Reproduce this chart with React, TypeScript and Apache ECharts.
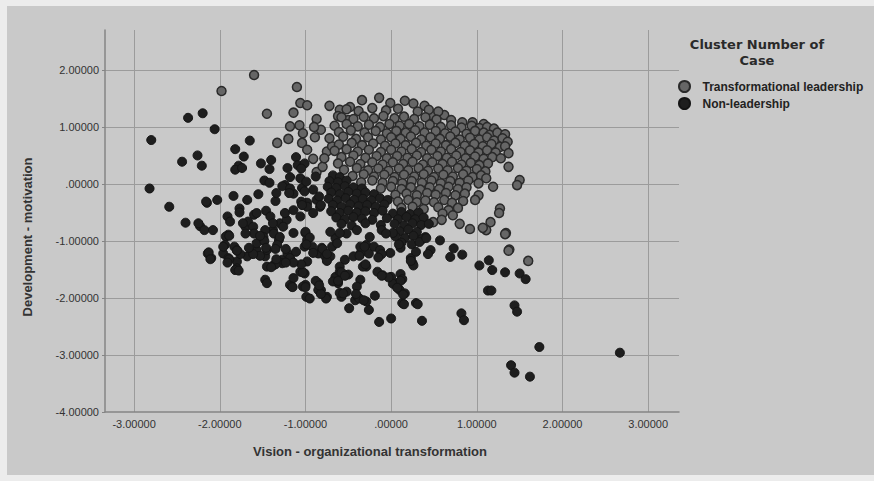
import React, { useEffect, useRef } from 'react';
import * as echarts from 'echarts';

const X_NAME = 'Vision - organizational transformation';
const Y_NAME = 'Development - motivation';
const LEGEND_TITLE = 'Cluster Number of\nCase';
const SERIES_NAMES = ['Transformational leadership', 'Non-leadership'];
const X_MIN = -3.34;
const X_MAX = 3.36;
const Y_MIN = -4;
const Y_MAX = 2.7;

// Cluster 1: Transformational leadership (grey markers)
const transformational: number[][] = [
  [-1.60, 1.91], [-1.98, 1.63], [-1.10, 1.70], [-1.45, 1.23], [-1.14, 1.25], [-1.06, 1.42], [-0.98, 1.38],
  [-0.87, 1.14], [-0.72, 1.37], [-1.07, 1.03], [-1.03, 0.89], [-0.89, 0.82], [-1.20, 0.79], [-1.33, 0.72],
  [-1.04, 0.72], [-0.91, 0.44], [-0.87, 0.21], [-0.60, 1.30], [-0.48, 1.35], [-0.34, 1.47], [-0.14, 1.51],
  [-0.01, 1.42], [0.16, 1.46], [0.26, 1.41], [0.39, 1.37], [0.47, 1.21], [0.62, 1.21], [-0.50, 1.12],
  [-0.82, 0.95], [-0.98, 0.60], [-0.75, 0.57], [-0.69, 0.66], [-0.80, 0.30], [-0.78, 0.45], [-0.90, 1.00],
  [-1.18, 1.01], [-0.62, 1.19],
  [-0.52, 1.31], [-0.38, 1.28], [-0.22, 1.33], [-0.06, 1.29], [0.08, 1.32], [0.31, 1.27], [0.44, 1.30], [0.55, 1.27],
  [-0.58, 1.17], [-0.44, 1.14], [-0.32, 1.18], [-0.20, 1.15], [-0.09, 1.19], [0.04, 1.15], [0.15, 1.18], [0.27, 1.14],
  [0.40, 1.17], [0.53, 1.13], [0.70, 1.12], [0.83, 1.08], [0.95, 1.08], [1.08, 1.05],
  [-0.66, 1.02], [-0.52, 1.05], [-0.39, 1.01], [-0.26, 1.04], [-0.13, 1.00], [-0.02, 1.05], [0.10, 1.02], [0.21, 1.05],
  [0.33, 1.01], [0.45, 1.04], [0.58, 1.00], [0.70, 1.03], [0.82, 0.99], [0.94, 1.02], [1.03, 0.98], [1.12, 1.00], [1.20, 0.97],
  [-0.61, 0.91], [-0.47, 0.94], [-0.31, 0.90], [-0.18, 0.93], [-0.05, 0.89], [0.06, 0.93], [0.17, 0.90], [0.28, 0.94],
  [0.39, 0.90], [0.52, 0.93], [0.63, 0.89], [0.75, 0.92], [0.88, 0.88], [0.98, 0.93], [1.08, 0.90], [1.15, 0.86],
  [1.24, 0.90], [1.33, 0.87],
  [-0.72, 0.80], [-0.56, 0.83], [-0.41, 0.79], [-0.27, 0.82], [-0.12, 0.78], [0.00, 0.82], [0.11, 0.79], [0.23, 0.83],
  [0.35, 0.78], [0.46, 0.82], [0.57, 0.79], [0.69, 0.83], [0.80, 0.78], [0.92, 0.81], [1.03, 0.78], [1.12, 0.82],
  [1.20, 0.76], [1.30, 0.80], [1.36, 0.74],
  [-0.61, 0.69], [-0.46, 0.72], [-0.34, 0.68], [-0.21, 0.71], [-0.07, 0.67], [0.05, 0.71], [0.17, 0.68], [0.29, 0.72],
  [0.41, 0.67], [0.52, 0.71], [0.64, 0.68], [0.75, 0.72], [0.86, 0.67], [0.97, 0.70], [1.07, 0.66], [1.17, 0.70],
  [1.27, 0.65], [1.33, 0.66],
  [-0.66, 0.58], [-0.52, 0.61], [-0.39, 0.57], [-0.26, 0.60], [-0.12, 0.56], [0.00, 0.60], [0.12, 0.57], [0.24, 0.61],
  [0.35, 0.56], [0.47, 0.60], [0.58, 0.57], [0.70, 0.61], [0.81, 0.56], [0.92, 0.59], [1.02, 0.55], [1.12, 0.59],
  [1.22, 0.55], [1.37, 0.54],
  [-0.58, 0.47], [-0.44, 0.50], [-0.30, 0.46], [-0.17, 0.49], [-0.05, 0.45], [0.07, 0.49], [0.19, 0.46], [0.30, 0.50],
  [0.42, 0.45], [0.54, 0.49], [0.65, 0.46], [0.76, 0.50], [0.87, 0.45], [0.98, 0.48], [1.08, 0.44], [1.18, 0.47], [1.28, 0.45],
  [-0.62, 0.36], [-0.48, 0.39], [-0.36, 0.35], [-0.22, 0.38], [-0.10, 0.34], [0.02, 0.38], [0.14, 0.35], [0.25, 0.39],
  [0.37, 0.34], [0.48, 0.38], [0.60, 0.35], [0.71, 0.39], [0.82, 0.34], [0.93, 0.37], [1.03, 0.33], [1.13, 0.36], [1.37, 0.30],
  [-0.55, 0.25], [-0.40, 0.28], [-0.27, 0.24], [-0.15, 0.27], [-0.03, 0.23], [0.09, 0.27], [0.20, 0.24], [0.32, 0.28],
  [0.43, 0.23], [0.55, 0.27], [0.66, 0.24], [0.78, 0.28], [0.88, 0.23], [1.00, 0.26], [1.10, 0.22],
  [-0.45, 0.14], [-0.32, 0.17], [-0.20, 0.13], [-0.08, 0.16], [0.04, 0.12], [0.15, 0.16], [0.27, 0.13], [0.38, 0.17],
  [0.50, 0.12], [0.61, 0.16], [0.72, 0.13], [0.84, 0.17], [0.95, 0.12], [1.05, 0.15], [1.11, 0.10],
  [-0.35, 0.03], [-0.22, 0.06], [-0.10, 0.02], [0.02, 0.05], [0.13, 0.01], [0.24, 0.05], [0.36, 0.02], [0.47, 0.06],
  [0.58, 0.01], [0.69, 0.05], [0.80, 0.02], [0.90, 0.06], [1.02, 0.01], [1.50, 0.07], [1.47, -0.02],
  [-0.12, -0.08], [0.00, -0.05], [0.12, -0.09], [0.23, -0.06], [0.34, -0.10], [0.45, -0.06], [0.56, -0.09], [0.67, -0.05],
  [0.78, -0.09], [0.88, -0.06], [1.19, -0.05],
  [0.05, -0.19], [0.18, -0.17], [0.30, -0.20], [0.42, -0.16], [0.52, -0.19], [0.64, -0.16], [0.75, -0.20], [0.86, -0.17], [1.02, -0.20],
  [0.08, -0.31], [0.20, -0.28], [0.30, -0.32], [0.40, -0.29], [0.50, -0.32], [0.62, -0.28], [0.71, -0.33], [0.84, -0.30], [0.98, -0.28],
  [0.12, -0.42], [0.25, -0.40], [0.38, -0.44], [0.55, -0.41], [0.67, -0.46], [0.78, -0.42], [0.60, -0.52], [0.72, -0.55],
  [0.59, -0.63], [0.49, -0.67], [0.80, -0.70], [1.27, -0.43], [1.26, -0.51], [1.34, -0.86], [1.16, -0.67], [1.11, -0.81],
  [0.92, -0.79], [1.07, -0.77], [1.38, -1.15], [1.60, -1.35], [1.37, -1.17], [1.33, -0.88],
];

// Cluster 2: Non-leadership (dark markers)
const nonLeadership: number[][] = [
  [-0.68, 0.15], [-0.60, 0.12],
  [-0.72, 0.05], [-0.62, 0.03], [-0.52, 0.06],
  [-0.74, -0.05], [-0.64, -0.07], [-0.54, -0.04], [-0.44, -0.06], [-0.34, -0.08],
  [-0.70, -0.15], [-0.60, -0.18], [-0.50, -0.14], [-0.40, -0.17], [-0.30, -0.15], [-0.20, -0.18],
  [-0.73, -0.26], [-0.63, -0.29], [-0.53, -0.25], [-0.43, -0.28], [-0.33, -0.26], [-0.23, -0.29], [-0.13, -0.25], [-0.04, -0.28],
  [-0.68, -0.37], [-0.58, -0.40], [-0.48, -0.36], [-0.38, -0.39], [-0.28, -0.37], [-0.18, -0.40], [-0.08, -0.36],
  [-0.70, -0.48], [-0.60, -0.51], [-0.50, -0.47], [-0.40, -0.50], [-0.30, -0.48], [-0.20, -0.51], [-0.10, -0.47],
  [0.02, -0.52], [0.12, -0.49], [0.22, -0.53], [0.32, -0.50],
  [-0.64, -0.59], [-0.54, -0.62], [-0.44, -0.58], [-0.34, -0.61], [-0.22, -0.63], [-0.05, -0.60], [0.08, -0.62],
  [0.18, -0.58], [0.28, -0.62], [0.38, -0.59],
  [-0.58, -0.70], [-0.46, -0.73], [-0.30, -0.69], [-0.12, -0.72], [0.04, -0.70], [0.15, -0.73], [0.25, -0.69], [0.35, -0.72], [0.44, -0.70],
  [-0.40, -0.81], [0.10, -0.83], [0.20, -0.80], [0.30, -0.84], [0.40, -0.93],
  [0.05, -0.92], [0.16, -0.95], [0.26, -0.91], [0.36, -0.97],
  [0.12, -1.03], [0.24, -1.06], [0.33, -1.02],
  [-2.80, 0.77], [-2.82, -0.08], [-2.37, 1.16], [-2.20, 1.24], [-2.06, 0.96], [-2.44, 0.39], [-2.26, 0.50], [-2.21, 0.32],
  [-2.59, -0.40], [-2.40, -0.68], [-2.15, -0.33], [-2.03, -0.28], [-2.23, -0.74], [-2.18, -0.81], [-2.08, -0.81],
  [-1.90, -0.89], [-1.82, 0.61], [-1.65, 0.76], [-1.72, 0.48], [-1.78, 0.32], [-1.82, 0.25], [-1.74, 0.28], [-1.52, 0.36],
  [-1.40, 0.42], [-1.42, 0.26], [-1.48, 0.06], [-1.24, -0.02], [-1.84, -0.21], [-1.68, -0.28], [-1.55, -0.18],
  [-1.77, -0.43], [-1.77, -0.50], [-1.60, -0.54], [-1.46, -0.47], [-1.35, -0.30], [-1.91, -0.57], [-1.88, -0.66], [-1.70, -0.75],
  [-1.21, 0.28], [-1.11, 0.47], [-1.09, 0.33], [-1.18, 0.12], [-1.06, 0.10], [-1.27, -0.04], [-1.14, -0.17], [-0.98, -0.33],
  [-0.87, -0.28], [-0.91, -0.10], [-1.04, -0.07], [-0.83, -0.40], [-1.30, -0.69], [-1.38, -0.81], [-1.22, -0.63],
  [-1.06, -0.57], [-1.14, -0.86], [-1.00, -0.86], [-0.98, -0.98],
  [-1.01, 0.36], [-1.05, 0.27], [-0.88, 0.13], [-0.99, 0.04], [-0.84, -0.22], [-1.18, -0.08], [-1.34, -0.16], [-1.42, 0.02],
  [-1.19, -0.16], [-1.01, -0.13], [-1.05, -0.31], [-0.98, -0.40], [-0.82, -0.37], [-1.24, -0.51], [-1.41, -0.57],
  [-1.57, -0.51], [-1.67, -0.66], [-2.16, -0.31], [-2.25, -0.69],
  [-1.14, -0.46], [-1.04, -0.37], [-0.91, -0.51], [-1.38, -0.69], [-1.26, -0.75], [-1.61, -0.75], [-1.73, -0.69],
  [-1.47, -0.81], [-1.37, -0.87], [-1.31, -0.98], [-1.50, -0.98], [-1.60, -0.87], [-1.70, -0.87], [-1.93, -0.92],
  [-1.83, -1.10], [-1.96, -1.22], [-1.90, -1.30], [-1.80, -1.36], [-2.14, -1.22], [-2.10, -1.30], [-1.80, -1.48],
  [-1.57, -1.16], [-1.47, -1.27], [-1.37, -1.42], [-1.45, -1.45], [-1.27, -1.33], [-1.21, -1.22], [-1.47, -1.68],
  [-1.45, -1.74], [-1.18, -1.30], [-1.11, -1.19], [-1.01, -1.10], [-0.92, -1.10], [-0.85, -1.22], [-0.77, -1.27],
  [-0.69, -1.10], [-0.65, -0.95], [-0.52, -0.87], [-0.29, -1.07], [-0.26, -1.22], [-0.20, -1.10], [-0.36, -1.22],
  [-0.54, -1.33], [-0.60, -1.45], [-0.65, -1.63], [-0.62, -1.74], [-0.85, -1.74], [-0.82, -1.86], [-1.00, -1.77],
  [-0.99, -1.98], [-1.18, -1.77], [-1.14, -1.65], [-1.01, -1.57], [-0.52, -1.89], [-0.58, -1.98], [-0.42, -2.04],
  [-0.49, -2.18], [-0.26, -2.21], [-0.29, -2.06], [-0.36, -1.68], [-0.29, -1.45], [-0.16, -1.54], [-0.10, -1.60],
  [0.00, -1.63], [0.07, -1.74], [0.10, -1.86], [0.16, -1.92], [0.13, -2.09], [0.29, -2.09], [0.00, -2.36], [-0.14, -2.42],
  [0.25, -1.39], [0.23, -1.30], [0.29, -1.19],
  [-1.94, -1.07], [-1.80, -1.16], [-1.68, -1.27], [-1.57, -1.04], [-1.49, -0.93], [-1.45, -1.16], [-1.82, -1.51],
  [-1.27, -1.39], [-1.16, -1.80], [-1.03, -1.80], [-0.85, -1.86], [-0.75, -1.98], [-1.06, -1.54], [-0.98, -1.36],
  [-0.91, -1.21], [-0.81, -1.12], [-0.71, -1.27], [-0.60, -1.54], [-0.50, -1.59], [-0.68, -1.71], [-0.60, -1.91],
  [-0.39, -1.98], [-0.40, -1.80], [-0.33, -1.45], [-0.44, -1.27], [-0.36, -1.10], [-0.13, -1.16], [-0.01, -1.21],
  [0.02, -0.86], [-0.11, -0.81], [-0.25, -0.93], [-0.60, -0.86], [-0.71, -0.84], [-0.63, -1.04], [-1.00, -0.84],
  [-1.30, -0.93], [-1.33, -1.07],
  [-0.37, -2.01], [-0.32, -2.04], [-0.19, -1.96], [-0.41, -1.93], [-0.56, -1.92], [-0.76, -2.01], [-0.82, -1.93],
  [-0.95, -2.01], [-1.00, -1.81], [-1.15, -1.81], [0.02, -1.75], [-0.03, -1.64], [-0.11, -1.61], [0.11, -1.58],
  [0.13, -1.67], [0.11, -1.70], [0.11, -1.12], [0.09, -1.06], [-0.06, -0.87], [-0.11, -1.23], [-0.15, -1.29],
  [-0.31, -1.10], [-0.37, -1.26], [-0.30, -1.41], [-0.58, -1.55], [-0.62, -1.70], [-0.54, -1.61], [-0.75, -1.35],
  [-0.80, -1.14], [-0.75, -1.23], [-0.88, -1.70], [-0.84, -1.78], [-0.95, -0.94], [-0.99, -1.06], [-1.03, -1.55],
  [-1.05, -1.41], [-1.14, -1.38], [-1.23, -1.38], [-1.35, -1.41], [-1.40, -1.46], [-1.34, -1.32], [-1.48, -1.00],
  [-1.46, -1.12], [-1.35, -1.14], [-1.23, -1.14], [-1.53, -1.26], [-1.61, -1.23], [-1.66, -1.12], [-1.53, -0.91],
  [-1.78, -1.52], [-1.76, -1.23], [-1.80, -1.17], [-1.89, -1.32], [-1.91, -1.38], [-1.96, -1.10], [-1.89, -0.91],
  [-2.13, -1.20], [-2.11, -1.32],
  [0.41, -0.95], [0.57, -0.99], [0.46, -1.16], [0.43, -1.23], [0.73, -1.13], [0.69, -1.28], [0.83, -1.24],
  [1.03, -1.43], [1.14, -1.34], [1.18, -1.51], [1.33, -1.55], [1.50, -1.57], [1.57, -1.67], [1.13, -1.87], [1.17, -1.87],
  [1.44, -2.13], [1.47, -2.24], [0.82, -2.27], [0.85, -2.39], [0.36, -2.40], [0.31, -2.11], [0.15, -2.11],
  [0.26, -1.43], [0.23, -1.35], [0.07, -1.82], [0.14, -1.94],
  [1.73, -2.86], [2.67, -2.96], [1.40, -3.18], [1.44, -3.31], [1.62, -3.38],
];

function fmt(v: number): string {
  if (Math.abs(v) < 1e-9) return '.00000';
  return v.toFixed(5);
}

const LABEL_FONT = { color: '#333333', fontSize: 11, fontFamily: 'Liberation Sans' };
const GRID_COLOR = '#9b9b9b';
const AXIS_COLOR = '#858585';

export default function App() {
  const ref = useRef<HTMLDivElement>(null);

  useEffect(() => {
    if (!ref.current) return;
    const chart = echarts.init(ref.current, undefined, { renderer: 'svg' });
    chart.setOption({
      animation: false,
      backgroundColor: 'transparent',
      grid: { left: 105, top: 30, right: 195, bottom: 69, containLabel: false },
      xAxis: {
        type: 'value',
        min: X_MIN,
        max: X_MAX,
        splitNumber: 6,
        minInterval: 1,
        maxInterval: 1,
        axisLine: { show: true, onZero: false, lineStyle: { color: AXIS_COLOR, width: 1.5 } },
        axisTick: { show: false },
        axisLabel: { ...LABEL_FONT, formatter: fmt, showMinLabel: false, showMaxLabel: false, margin: 6 },
        splitLine: { show: true, showMinLine: false, showMaxLine: false, lineStyle: { color: GRID_COLOR, width: 1 } },
      },
      yAxis: {
        type: 'value',
        min: Y_MIN,
        max: Y_MAX,
        interval: 1,
        axisLine: { show: true, onZero: false, lineStyle: { color: AXIS_COLOR, width: 1.5 } },
        axisTick: { show: true, length: 3, lineStyle: { color: AXIS_COLOR } },
        axisLabel: { ...LABEL_FONT, formatter: fmt, showMaxLabel: false, margin: 6 },
        splitLine: { show: true, showMinLine: false, showMaxLine: false, lineStyle: { color: GRID_COLOR, width: 1 } },
      },
      legend: {
        orient: 'vertical',
        left: 673,
        top: 75,
        itemWidth: 26,
        itemHeight: 11,
        itemGap: 4,
        icon: 'circle',
        data: SERIES_NAMES,
        textStyle: { fontSize: 12, fontWeight: 'bold', color: '#222222', fontFamily: 'Liberation Sans' },
      },
      graphic: [
        {
          type: 'text',
          x: 757,
          y: 36,
          style: {
            text: LEGEND_TITLE,
            fontSize: 13,
            fontWeight: 'bold',
            fontFamily: 'DejaVu Sans',
            lineHeight: 16,
            fill: '#2a2a2a',
            align: 'center',
            verticalAlign: 'top',
          },
        },
        {
          type: 'text',
          x: 370,
          y: 451,
          style: {
            text: X_NAME,
            fontSize: 13,
            fontWeight: 'bold',
            fontFamily: 'Liberation Sans',
            fill: '#333333',
            align: 'center',
            verticalAlign: 'middle',
          },
        },
        {
          type: 'text',
          x: 27,
          y: 237,
          rotation: Math.PI / 2,
          style: {
            text: Y_NAME,
            fontSize: 13,
            fontWeight: 'bold',
            fontFamily: 'Liberation Sans',
            fill: '#333333',
            align: 'center',
            verticalAlign: 'middle',
          },
        },
      ],
      series: [
        {
          name: SERIES_NAMES[0],
          type: 'scatter',
          data: transformational,
          symbol: 'circle',
          symbolSize: 9,
          itemStyle: { color: '#666666', borderColor: '#2a2a2a', borderWidth: 1.5, opacity: 1 },
          emphasis: { disabled: true },
        },
        {
          name: SERIES_NAMES[1],
          type: 'scatter',
          data: nonLeadership,
          symbol: 'circle',
          symbolSize: 9,
          itemStyle: { color: '#1e1e1e', borderColor: '#141414', borderWidth: 1, opacity: 1 },
          emphasis: { disabled: true },
        },
      ],
    });
    return () => chart.dispose();
  }, []);

  return (
    <div style={{ position: 'fixed', left: 0, top: 0, width: 874, height: 481, background: '#ececec', overflow: 'hidden' }}>
      <div style={{ position: 'absolute', left: 7, top: 6, width: 867, height: 469, background: '#c9c9c9' }} />
      <div ref={ref} style={{ position: 'absolute', left: 0, top: 0, width: 874, height: 481 }} />
    </div>
  );
}
